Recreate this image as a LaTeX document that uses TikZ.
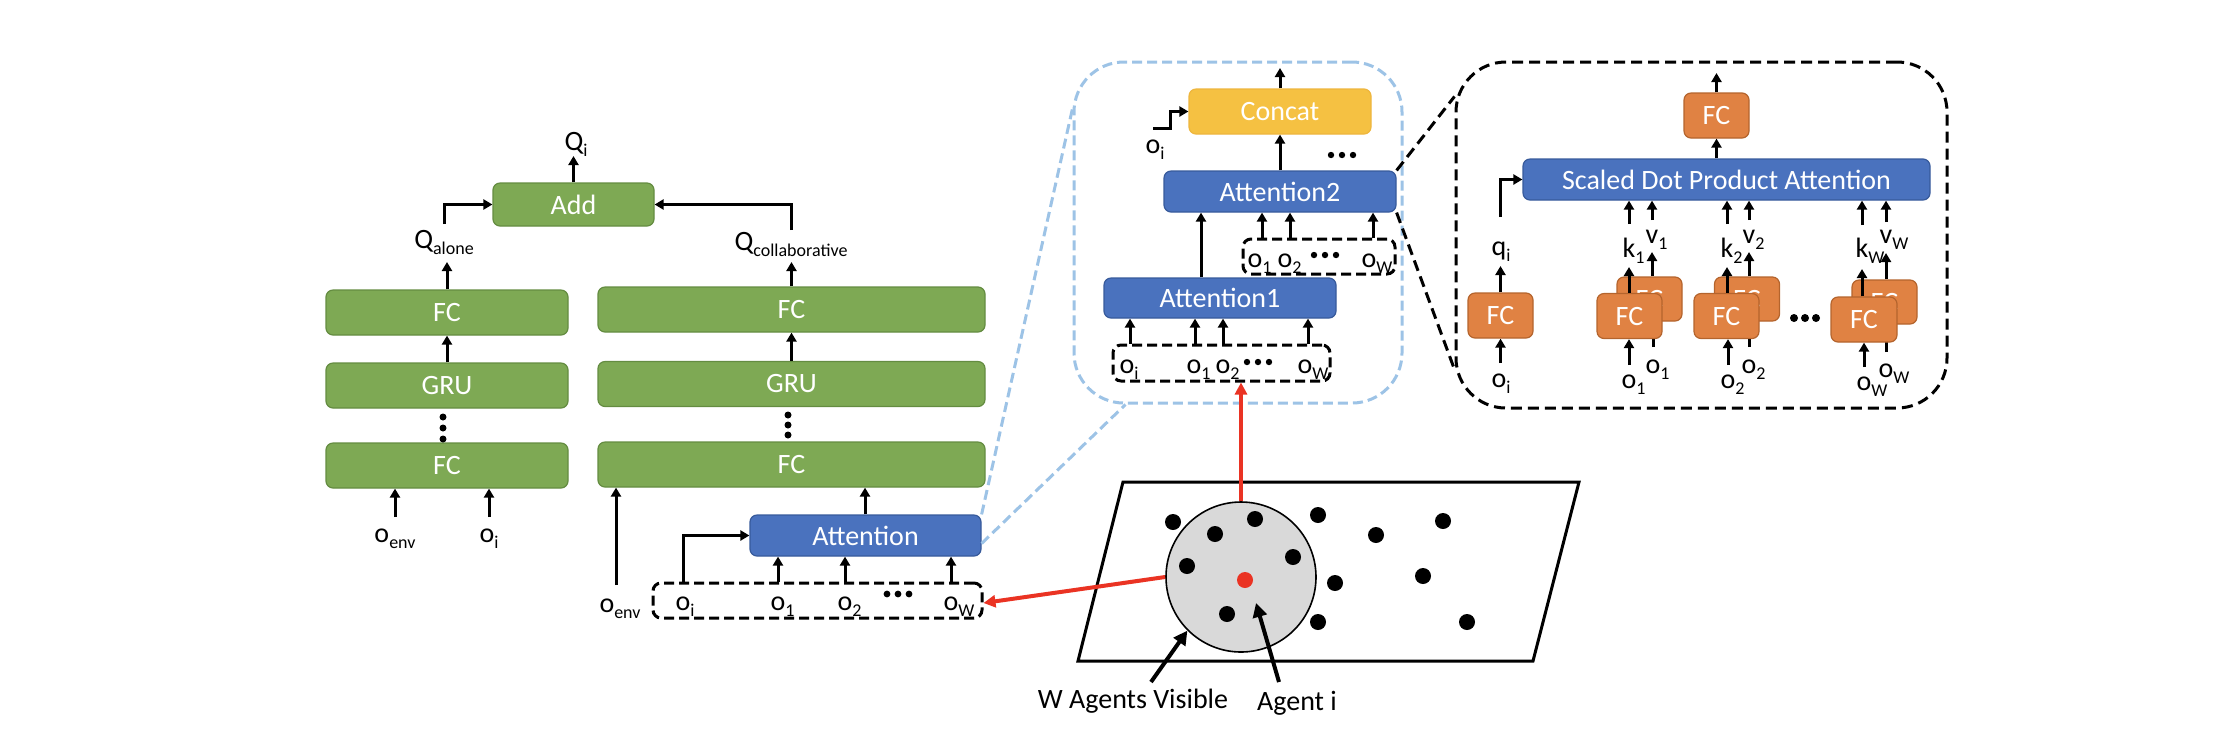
\documentclass[tikz,border=0pt]{standalone}
\usepackage{fontspec}
\setmainfont{Carlito}
\usetikzlibrary{arrows.meta}
\definecolor{gfill}{RGB}{126,169,84}
\definecolor{gdraw}{RGB}{100,140,65}
\definecolor{bfill}{RGB}{74,114,190}
\definecolor{bdraw}{RGB}{55,90,155}
\definecolor{ofill}{RGB}{224,130,67}
\definecolor{odraw}{RGB}{180,100,45}
\definecolor{yfill}{RGB}{245,193,66}
\definecolor{ydraw}{RGB}{238,182,62}
\definecolor{lblue}{RGB}{157,195,230}
\definecolor{redc}{RGB}{234,51,35}
\definecolor{grayc}{RGB}{217,217,217}
\newcommand\lsub[1]{\raisebox{-0.45ex}{\fontsize{9}{9}\selectfont #1}}
\newcommand\threedots[3]{\fill (#1-11,#2) circle (#3) (#1,#2) circle (#3) (#1+11,#2) circle (#3);}
\begin{document}
\begin{tikzpicture}[x=0.5pt,y=-0.5pt,
  bx/.style={rectangle, rounded corners=3.5pt, inner sep=0pt, text=white, font=\fontsize{14}{16}\selectfont, line width=0.6pt},
  gbox/.style={bx, fill=gfill, draw=gdraw},
  bbox/.style={bx, fill=bfill, draw=bdraw},
  obox/.style={bx, fill=ofill, draw=odraw},
  ybox/.style={bx, fill=yfill, draw=ydraw},
  dbx/.style={rectangle, draw=black, line width=1.5pt, dash pattern=on 5pt off 2.5pt, rounded corners=4pt, inner sep=0pt},
  lbl/.style={inner sep=0pt, font=\fontsize{14}{16}\selectfont, anchor=base},
  arr/.style={line width=1.5pt, -{Triangle[length=4.5pt,width=5pt]}},
  redarr/.style={line width=2pt, draw=redc, -{Triangle[length=6pt,width=6pt]}},
  bigarr/.style={line width=2pt, -{Triangle[length=7pt,width=7pt]}},
  lbdash/.style={draw=lblue, line width=1.5pt, dash pattern=on 5pt off 2.5pt},
  bkdash/.style={draw=black, line width=1.5pt, dash pattern=on 5.5pt off 3pt},
]
\useasboundingbox (0,0) rectangle (2218,736);

% ---------------- left column (alone)
\node[gbox, minimum width=80.5pt, minimum height=21.5pt] (add) at (573.5,204.5) {Add};
\node[gbox, minimum width=121pt, minimum height=22.5pt] (fcA1) at (447,312.5) {FC};
\node[gbox, minimum width=121pt, minimum height=22.5pt] (gruA) at (447,385.5) {GRU};
\node[gbox, minimum width=121pt, minimum height=22.5pt] (fcA0) at (447,465.5) {FC};
\node[lbl] (lqi) at (574,150) {Q\rlap{\lsub{i}}};
\node[lbl] (lqa) at (444,248) {Q\lsub{alone}};
\node[lbl] (loe1) at (395,542) {o\lsub{env}};
\node[lbl] (loi1) at (489,542) {o\lsub{i}};
\draw[arr] (add.north) -- (add.north |- 0,156);
\draw[arr] (fcA1.north) -- (fcA1.north |- 0,262);
\draw[arr] (lqa.north |- 0,224) |- (add.west);
\draw[arr] (gruA.north) -- (fcA1.south);
\fill (443,417) circle (1.75pt) (443,428) circle (1.75pt) (443,439) circle (1.75pt);
\draw[arr] (loe1.north |- 0,517) -- (loe1.north |- fcA0.south);
\draw[arr] (loi1.north |- 0,517) -- (loi1.north |- fcA0.south);

% ---------------- right column (collaborative)
\node[gbox, minimum width=193.5pt, minimum height=22.5pt] (fcC1) at (791.5,309.5) {FC};
\node[gbox, minimum width=193.5pt, minimum height=22.5pt] (gruC) at (791.5,384) {GRU};
\node[gbox, minimum width=193.5pt, minimum height=22.5pt] (fcC0) at (791.5,464.5) {FC};
\node[lbl] (lqc) at (791,250) {Q\lsub{collaborative}};
\draw[arr] (fcC1.north) -- (fcC1.north |- 0,262);
\draw[arr] (lqc.north |- 0,230) |- (add.east);
\draw[arr] (gruC.north) -- (fcC1.south);
\fill (788,415) circle (1.75pt) (788,425) circle (1.75pt) (788,435) circle (1.75pt);
\node[bbox, minimum width=115.5pt, minimum height=20.5pt] (att) at (865.5,535.5) {Attention};
\draw[arr] (865,0 |- att.north) -- (865,0 |- fcC0.south);
\node[dbx, minimum width=164.5pt, minimum height=17.5pt] (db0) at (817.5,600.5) {};
\node[lbl] (l0i) at (683,610) {o\rlap{\lsub{i}}};
\node[lbl] (l01) at (778,610) {o\rlap{\lsub{1}}};
\node[lbl] (l02) at (845,610) {o\rlap{\lsub{2}}};
\node[lbl] (l0w) at (951,610) {o\rlap{\lsub{W}}};
\threedots{898}{594}{1.7pt}
\draw[arr] (l0i.north |- db0.north) |- (att.west);
\draw[arr] (l01.north |- db0.north) -- (l01.north |- att.south);
\draw[arr] (l02.north |- db0.north) -- (l02.north |- att.south);
\draw[arr] (l0w.north |- db0.north) -- (l0w.north |- att.south);
\node[lbl] (loe2) at (620,612) {o\lsub{env}};
\draw[arr] (616,585) -- (616,0 |- fcC0.south);

% ---------------- zoom A (blue dashed)
\node[rectangle, lbdash, rounded corners=25pt, minimum width=164pt, minimum height=170.5pt, inner sep=0pt] (zoomA) at (1238,232.5) {};
\draw[lbdash] (att.north east) -- ([yshift=-24pt]zoomA.north west);
\draw[lbdash] ([yshift=-4pt]att.east) -- ([xshift=26.5pt]zoomA.south west);
\node[ybox, minimum width=91pt, minimum height=22.5pt] (concat) at (1280,111.5) {Concat};
\draw[arr] (concat.north) -- (concat.north |- 0,68);
\node[bbox, minimum width=116pt, minimum height=20.5pt] (att2) at (1280,191.5) {Attention2};
\draw[arr] (att2.north) -- (concat.south);
\node[lbl] (lci) at (1153,153) {o\rlap{\lsub{i}}};
\draw[arr] (lci.north |- 0,128) -- (1170,128) |- (concat.west);
\threedots{1342}{155}{1.6pt}
\node[dbx, minimum width=76pt, minimum height=17.5pt] (db2) at (1319,256.5) {};
\node[lbl] (l21) at (1255,267) {o\rlap{\lsub{1}}};
\node[lbl] (l22) at (1285,267) {o\rlap{\lsub{2}}};
\node[lbl] (l2w) at (1369,267) {o\rlap{\lsub{W}}};
\threedots{1325}{255}{1.6pt}
\draw[arr] (1262,0 |- db2.north) -- (1262,0 |- att2.south);
\draw[arr] (1290,0 |- db2.north) -- (1290,0 |- att2.south);
\draw[arr] (1373,0 |- db2.north) -- (1373,0 |- att2.south);
\node[bbox, minimum width=116pt, minimum height=20pt] (att1) at (1220,298) {Attention1};
\draw[arr] (1201,0 |- att1.north) -- (1201,0 |- att2.south);
\node[dbx, minimum width=108.5pt, minimum height=18pt] (db1) at (1221.5,363) {};
\node[lbl] (l1i) at (1127,373) {o\rlap{\lsub{i}}};
\node[lbl] (l11) at (1194,373) {o\rlap{\lsub{1}}};
\node[lbl] (l12) at (1223,373) {o\rlap{\lsub{2}}};
\node[lbl] (l1w) at (1305,373) {o\rlap{\lsub{W}}};
\threedots{1258}{362}{1.6pt}
\draw[arr] (1130,0 |- db1.north) -- (1130,0 |- att1.south);
\draw[arr] (1195,0 |- db1.north) -- (1195,0 |- att1.south);
\draw[arr] (1223,0 |- db1.north) -- (1223,0 |- att1.south);
\draw[arr] (1308,0 |- db1.north) -- (1308,0 |- att1.south);

% ---------------- zoom B (black dashed)
\node[rectangle, bkdash, rounded corners=25pt, minimum width=245.5pt, minimum height=173pt, inner sep=0pt] (zoomB) at (1701.5,235) {};
\draw[bkdash] (att2.north east) -- ([yshift=-18pt]zoomB.north west);
\draw[bkdash] (att2.south east) -- ([yshift=20pt]zoomB.south west);
\node[obox, minimum width=32.5pt, minimum height=22.5pt] (fct) at (1716.5,115.5) {FC};
\draw[arr] (fct.north) -- (fct.north |- 0,73);
\node[bbox, minimum width=203.5pt, minimum height=20.5pt] (sdpa) at (1726.5,179.5) {Scaled Dot Product Attention};
\draw[arr] (fct.south |- sdpa.north) -- (fct.south);
% q branch
\node[obox, minimum width=32.5pt, minimum height=22.5pt] (fcq) at (1500.5,315.5) {FC};
\node[lbl] (lq) at (1499,255) {q\rlap{\lsub{i}}};
\node[lbl] (lqo) at (1499,387) {o\rlap{\lsub{i}}};
\draw[arr] (fcq.north) -- (fcq.north |- 0,266);
\draw[arr] (fcq.north |- 0,217) |- (sdpa.west);
\draw[arr] (fcq.south |- 0,363) -- (fcq.south);
% pair 1
\node[obox, minimum width=32.5pt, minimum height=22pt] (b1) at (1649.5,299) {FC};
\node[lbl] (lo1b) at (1653,373) {o\rlap{\lsub{1}}};
\draw[arr] (lo1b.north |- 0,347) -- (lo1b.north |- b1.south);
\node[obox, minimum width=32.5pt, minimum height=22.5pt] (f1) at (1629.5,316) {FC};
\node[lbl] (lo1f) at (1629,388) {o\rlap{\lsub{1}}};
\draw[arr] (lo1f.north |- 0,365) -- (lo1f.north |- f1.south);
\node[lbl] (lk1) at (1629,257) {k\rlap{\lsub{1}}};
\node[lbl] (lv1) at (1652,243) {v\rlap{\lsub{1}}};
\draw[arr] (lk1.north |- f1.north) -- (lk1.north |- 0,267);
\draw[arr] (lk1.north |- 0,224) -- (lk1.north |- sdpa.south);
\draw[arr] (lv1.north |- b1.north) -- (lv1.north |- 0,252);
\draw[arr] (lv1.north |- 0,220) -- (lv1.north |- sdpa.south);
% pair 2
\node[obox, minimum width=32.5pt, minimum height=22pt] (b2) at (1747,299) {FC};
\node[lbl] (lo2b) at (1749,373) {o\rlap{\lsub{2}}};
\draw[arr] (lo2b.north |- 0,347) -- (lo2b.north |- b2.south);
\node[obox, minimum width=32.5pt, minimum height=22.5pt] (f2) at (1726.5,316) {FC};
\node[lbl] (lo2f) at (1728,388) {o\rlap{\lsub{2}}};
\draw[arr] (lo2f.north |- 0,365) -- (lo2f.north |- f2.south);
\node[lbl] (lk2) at (1727,257) {k\rlap{\lsub{2}}};
\node[lbl] (lv2) at (1749,243) {v\rlap{\lsub{2}}};
\draw[arr] (lk2.north |- f2.north) -- (lk2.north |- 0,267);
\draw[arr] (lk2.north |- 0,224) -- (lk2.north |- sdpa.south);
\draw[arr] (lv2.north |- b2.north) -- (lv2.north |- 0,252);
\draw[arr] (lv2.north |- 0,220) -- (lv2.north |- sdpa.south);
\threedots{1805}{318}{2pt}
% pair W
\node[obox, minimum width=32.5pt, minimum height=22pt] (bW) at (1884.5,302) {FC};
\node[lbl] (loWb) at (1886,377) {o\rlap{\lsub{W}}};
\draw[arr] (loWb.north |- 0,352) -- (loWb.north |- bW.south);
\node[obox, minimum width=33pt, minimum height=22.5pt] (fW) at (1864,319.5) {FC};
\node[lbl] (loWf) at (1864,390) {o\rlap{\lsub{W}}};
\draw[arr] (loWf.north |- 0,367) -- (loWf.north |- fW.south);
\node[lbl] (lkW) at (1862,257) {k\rlap{\lsub{W}}};
\node[lbl] (lvW) at (1886,243) {v\rlap{\lsub{W}}};
\draw[arr] (lkW.north |- fW.north) -- (lkW.north |- 0,269);
\draw[arr] (lkW.north |- 0,225) -- (lkW.north |- sdpa.south);
\draw[arr] (lvW.north |- bW.north) -- (lvW.north |- 0,253);
\draw[arr] (lvW.north |- 0,222) -- (lvW.north |- sdpa.south);

% ---------------- scene
\draw[line width=1.5pt] (1123,482) -- (1579,482) -- (1533,661) -- (1078,661) -- cycle;
\node[circle, fill=grayc, draw=black, line width=0.8pt, minimum size=75pt, inner sep=0pt] (vis) at (1241,577) {};
\foreach \px/\py in {1173/522, 1255/519, 1215/534, 1187/566, 1293/557, 1318/515, 1376/535, 1443/521, 1335/583, 1423/576, 1227/614, 1318/622, 1467/622}
  \fill (\px,\py) circle (4pt);
\node[circle, fill=redc, minimum size=8pt, inner sep=0pt] (agent) at (1245,580) {};
\draw[redarr] (vis.west) -- ([yshift=-1.25pt]db0.east);
\draw[redarr] (vis.north) -- (vis.north |- db1.south);
\node[lbl] (lwv) at (1133,708) {W Agents Visible};
\node[lbl] (lag) at (1297,710) {Agent i};
\coordinate (wa) at (1151,682);
\coordinate (ai) at (1279,682);
\draw[bigarr] (wa) -- (vis.225);
\draw[bigarr] (ai) -- ([shift={(11,23)}]agent.center);
\end{tikzpicture}
\end{document}
